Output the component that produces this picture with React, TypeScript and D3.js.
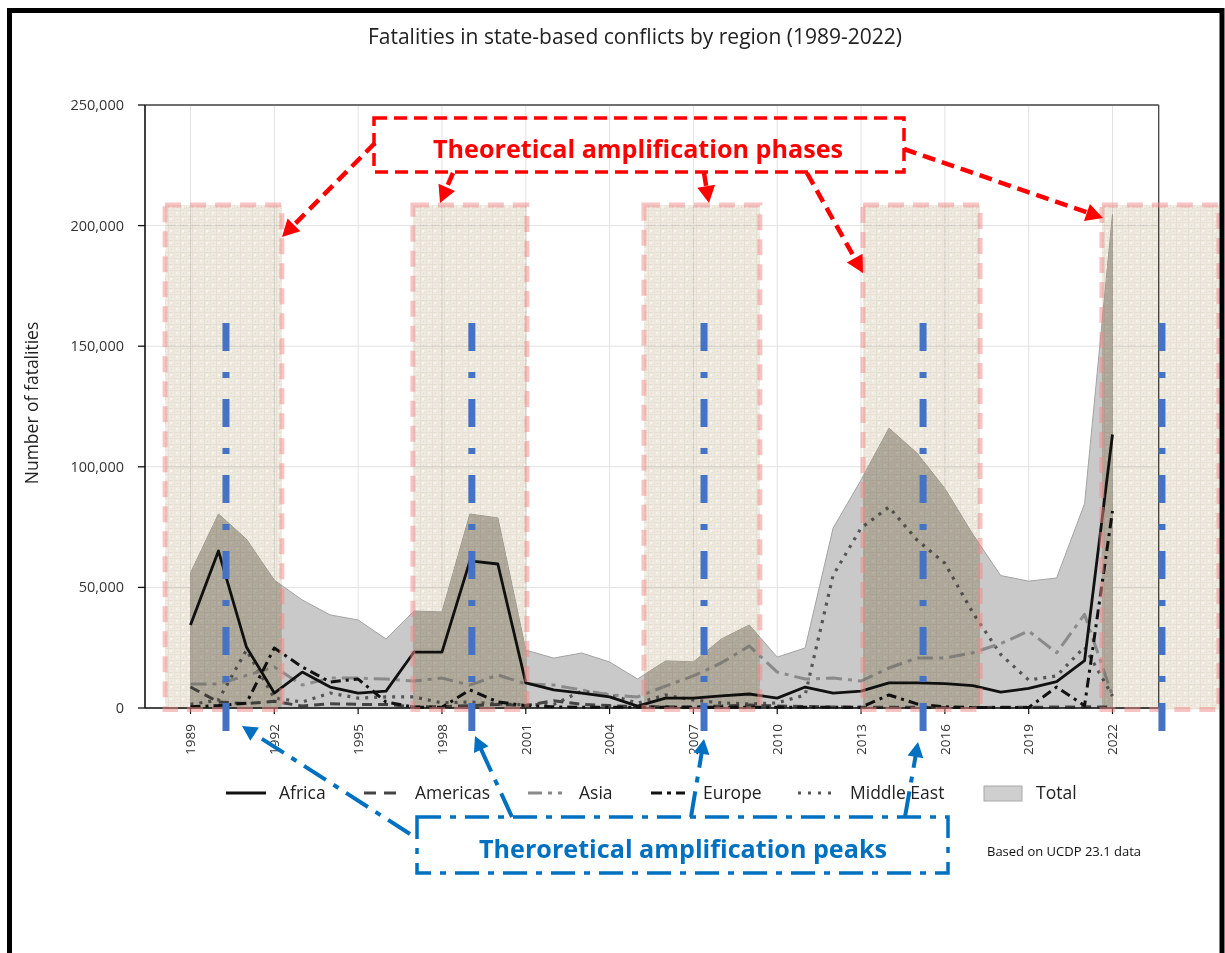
import React, { useEffect, useRef } from "react";
import * as d3 from "d3";

// ── Data ───────────────────────────────────────────────────────────────────
const years = [
  1989, 1990, 1991, 1992, 1993, 1994, 1995, 1996, 1997, 1998, 1999, 2000,
  2001, 2002, 2003, 2004, 2005, 2006, 2007, 2008, 2009, 2010, 2011, 2012,
  2013, 2014, 2015, 2016, 2017, 2018, 2019, 2020, 2021, 2022,
];
const africa = [
  34400, 65100, 25300, 6200, 14900, 8700, 6200, 7000, 23200, 23200, 61000, 59700,
  10400, 7500, 6200, 4600, 800, 4100, 4100, 5000, 5800, 4100, 8700, 6200,
  7000, 10400, 10400, 10100, 9300, 6600, 8100, 10900, 19600, 113400,
];
const americas = [
  8700, 2500, 1800, 2800, 800, 1800, 1500, 1500, 500, 500, 1000, 1500,
  1000, 3000, 1500, 1000, 500, 500, 400, 800, 1200, 800, 600, 400,
  300, 300, 300, 200, 200, 300, 300, 400, 500, 400,
];
const asia = [
  10000, 10000, 13500, 17000, 9500, 12400, 12400, 12000, 11200, 12400, 9500, 13700,
  10000, 9500, 7500, 5400, 4600, 9100, 13300, 18700, 25700, 14900, 12000, 12400,
  11200, 16600, 20700, 20700, 22900, 26700, 31900, 22900, 38800, 5000,
];
const europe = [
  500, 1000, 2000, 24900, 17000, 10800, 12000, 2500, 300, 300, 7500, 2500,
  1000, 500, 300, 300, 300, 300, 300, 300, 300, 300, 300, 300,
  300, 5400, 1700, 500, 200, 200, 200, 8700, 1000, 81700,
];
const middleEast = [
  1500, 3300, 24000, 4100, 2500, 6200, 4100, 4600, 4600, 2100, 2500, 1700,
  1300, 1500, 7000, 5500, 2000, 5400, 3300, 2100, 1700, 2100, 5400, 55000,
  74600, 83300, 69700, 60000, 39500, 22200, 11600, 13300, 25300, 5000,
];
const total = [
  56000, 80400, 70000, 53000, 44800, 38600, 36500, 28600, 40200, 39800, 80400, 78800,
  24000, 20700, 22800, 19100, 12000, 19500, 19100, 28600, 34400, 21100, 24900, 74600,
  94500, 116000, 105700, 91000, 72000, 54900, 52600, 53900, 84700, 204600,
];

const tickYears = [1989, 1992, 1995, 1998, 2001, 2004, 2007, 2010, 2013, 2016, 2019, 2022];
const yTicks = [0, 50000, 100000, 150000, 200000, 250000];

// annotation spans, in years
const phaseSpans: [number, number][] = [
  [1988.09, 1992.27],
  [1996.96, 2001.04],
  [2005.23, 2009.38],
  [2013.07, 2017.26],
  [2021.62, 2025.81],
];
const peakYears = [1990.27, 1999.07, 2007.38, 2015.22, 2023.77];

const App: React.FC = () => {
  const svgRef = useRef<SVGSVGElement | null>(null);

  useEffect(() => {
    if (!svgRef.current) return;
    const svg = d3.select(svgRef.current);
    svg.selectAll("*").remove();

    const FONT = "'Open Sans', 'Noto Sans', sans-serif";
    const P = { left: 145, right: 1158.7, top: 105, bottom: 708 };

    const x = d3.scaleLinear().domain([1989, 2022]).range([190.5, 1112.5]);
    const y = d3.scaleLinear().domain([0, 250000]).range([P.bottom, P.top]);

    // ── Defs: canvas texture, clip ─────────────────────────────────────────
    const defs = svg.append("defs");
    const pat = defs.append("pattern").attr("id", "burlap")
      .attr("patternUnits", "userSpaceOnUse").attr("width", 12).attr("height", 12);
    pat.append("rect").attr("width", 12).attr("height", 12).attr("fill", "#efeae0");
    const specks: [number, number, number, number, string][] = [
      [0, 0, 12, 1, "#e6e0d2"], [0, 6, 12, 1, "#e8e2d5"], [0, 0, 1, 12, "#e6e0d3"],
      [6, 0, 1, 12, "#e9e4d7"], [2, 2, 2, 2, "#f7f4ee"], [8, 8, 2, 2, "#f7f4ee"],
      [9, 3, 1, 1, "#ddd6c7"], [3, 9, 1, 1, "#ddd6c7"], [4, 4, 1, 1, "#e2dccd"],
    ];
    specks.forEach(([sx, sy, sw, sh, c]) => {
      pat.append("rect").attr("x", sx).attr("y", sy).attr("width", sw).attr("height", sh).attr("fill", c);
    });

    const phaseTop = 208500;
    const phaseBottom = -600;
    const clip = defs.append("clipPath").attr("id", "phaseClip");
    phaseSpans.forEach(([a, b]) => {
      clip.append("rect")
        .attr("x", x(a)).attr("y", y(phaseTop))
        .attr("width", x(b) - x(a)).attr("height", y(phaseBottom) - y(phaseTop));
    });

    svg.append("rect").attr("width", 1225).attr("height", 953).attr("fill", "#fff");

    // ── Title ──────────────────────────────────────────────────────────────
    svg.append("text").attr("x", 635).attr("y", 44).attr("text-anchor", "middle")
      .attr("font-family", FONT).attr("font-size", 21).attr("fill", "#222")
      .text("Fatalities in state-based conflicts by region (1989-2022)");

    // ── Grid ───────────────────────────────────────────────────────────────
    const grid = svg.append("g").attr("stroke", "#e2e2e2").attr("stroke-width", 1);
    yTicks.forEach((t) => {
      grid.append("line").attr("x1", P.left).attr("x2", P.right).attr("y1", y(t)).attr("y2", y(t));
    });
    tickYears.forEach((t) => {
      grid.append("line").attr("x1", x(t)).attr("x2", x(t)).attr("y1", P.top).attr("y2", P.bottom);
    });

    // ── Total area ─────────────────────────────────────────────────────────
    const idx = years.map((_, i) => i);
    const area = d3.area<number>()
      .x((i) => x(years[i]))
      .y0(y(0))
      .y1((i) => y(total[i]));
    svg.append("path").datum(idx).attr("d", area)
      .attr("fill", "#c9c9c9").attr("stroke", "#a3a3a3").attr("stroke-width", 1);
    svg.append("path").datum(idx).attr("d", area)
      .attr("clip-path", "url(#phaseClip)")
      .attr("fill", "#bcb9b2");

    // ── Region lines ───────────────────────────────────────────────────────
    const series = [
      { name: "Africa", values: africa, stroke: "#111", dash: "none", width: 2.8, legendDash: "none" },
      { name: "Americas", values: americas, stroke: "#444", dash: "10,6", width: 3, legendDash: "12,8" },
      { name: "Asia", values: asia, stroke: "#8a8a8a", dash: "16,6,4,6", width: 3, legendDash: "14,6,4,6" },
      { name: "Europe", values: europe, stroke: "#111", dash: "10,5,3,5", width: 3, legendDash: "11,5,4,5" },
      { name: "Middle East", values: middleEast, stroke: "#555", dash: "3,6", width: 3.2, legendDash: "3,7" },
    ];
    const drawOrder = [4, 2, 1, 3, 0];
    drawOrder.forEach((k) => {
      const s = series[k];
      const line = d3.line<number>()
        .x((i) => x(years[i]))
        .y((i) => y(s.values[i]));
      svg.append("path").datum(idx).attr("d", line)
        .attr("fill", "none").attr("stroke", s.stroke)
        .attr("stroke-width", s.width).attr("stroke-dasharray", s.dash)
        .attr("stroke-linejoin", "round");
    });

    // ── Axes ───────────────────────────────────────────────────────────────
    svg.append("line").attr("x1", P.left).attr("x2", P.right).attr("y1", P.top).attr("y2", P.top)
      .attr("stroke", "#444").attr("stroke-width", 1.3);
    svg.append("line").attr("x1", P.right).attr("x2", P.right).attr("y1", P.top).attr("y2", P.bottom)
      .attr("stroke", "#444").attr("stroke-width", 1.3);
    svg.append("line").attr("x1", P.left).attr("x2", P.left).attr("y1", P.top).attr("y2", P.bottom)
      .attr("stroke", "#111").attr("stroke-width", 1.6);
    svg.append("line").attr("x1", P.left).attr("x2", P.right).attr("y1", P.bottom).attr("y2", P.bottom)
      .attr("stroke", "#111").attr("stroke-width", 1.6);

    const fmt = d3.format(",");
    yTicks.forEach((t) => {
      svg.append("line").attr("x1", P.left - 7).attr("x2", P.left).attr("y1", y(t)).attr("y2", y(t))
        .attr("stroke", "#111").attr("stroke-width", 1.3);
      svg.append("text").attr("x", 124).attr("y", y(t)).attr("dy", "0.35em")
        .attr("text-anchor", "end").attr("font-family", FONT).attr("font-size", 14.5)
        .attr("fill", "#333").text(fmt(t));
    });
    tickYears.forEach((t) => {
      svg.append("line").attr("x1", x(t)).attr("x2", x(t)).attr("y1", P.bottom).attr("y2", P.bottom + 6)
        .attr("stroke", "#111").attr("stroke-width", 1.2);
      svg.append("text")
        .attr("transform", `translate(${x(t)},${P.bottom + 16}) rotate(-90)`)
        .attr("dy", "0.35em").attr("text-anchor", "end")
        .attr("font-family", FONT).attr("font-size", 13.5).attr("fill", "#333")
        .text(String(t));
    });

    svg.append("text").attr("transform", "translate(32,403) rotate(-90)")
      .attr("dy", "0.35em").attr("text-anchor", "middle")
      .attr("font-family", FONT).attr("font-size", 17.5).attr("fill", "#222")
      .text("Number of fatalities");

    // ── Legend ─────────────────────────────────────────────────────────────
    const legendY = 793;
    const legendPos = [
      { x1: 226, x2: 266, tx: 279 },
      { x1: 364, x2: 398, tx: 415 },
      { x1: 528, x2: 562, tx: 579 },
      { x1: 651, x2: 685, tx: 703 },
      { x1: 798, x2: 834, tx: 850 },
    ];
    series.forEach((s, k) => {
      const p = legendPos[k];
      svg.append("line").attr("x1", p.x1).attr("x2", p.x2).attr("y1", legendY).attr("y2", legendY)
        .attr("stroke", s.stroke).attr("stroke-width", s.width)
        .attr("stroke-dasharray", s.legendDash);
      svg.append("text").attr("x", p.tx).attr("y", legendY).attr("dy", "0.35em")
        .attr("font-family", FONT).attr("font-size", 17.5).attr("fill", "#222").text(s.name);
    });
    svg.append("rect").attr("x", 984).attr("y", 786).attr("width", 38).attr("height", 15)
      .attr("fill", "#cfcfcf").attr("stroke", "#a8a8a8").attr("stroke-width", 1);
    svg.append("text").attr("x", 1036).attr("y", legendY).attr("dy", "0.35em")
      .attr("font-family", FONT).attr("font-size", 17.5).attr("fill", "#222").text("Total");

    svg.append("text").attr("x", 987).attr("y", 856)
      .attr("font-family", FONT).attr("font-size", 13).attr("fill", "#111")
      .text("Based on UCDP 23.1 data");

    // ── Phase overlays ─────────────────────────────────────────────────────
    const ov = svg.append("g");
    phaseSpans.forEach(([a, b]) => {
      ov.append("rect")
        .attr("x", x(a)).attr("y", y(phaseTop))
        .attr("width", x(b) - x(a)).attr("height", y(phaseBottom) - y(phaseTop))
        .attr("fill", "url(#burlap)")
        .style("mix-blend-mode", "multiply");
    });
    phaseSpans.forEach(([a, b]) => {
      ov.append("rect")
        .attr("x", x(a)).attr("y", y(phaseTop))
        .attr("width", x(b) - x(a)).attr("height", y(phaseBottom) - y(phaseTop))
        .attr("fill", "none").attr("stroke", "#f08a8a").attr("stroke-opacity", 0.5)
        .attr("stroke-width", 5).attr("stroke-dasharray", "16,9");
    });

    // ── Peak lines ─────────────────────────────────────────────────────────
    peakYears.forEach((py) => {
      svg.append("line").attr("x1", x(py)).attr("x2", x(py))
        .attr("y1", y(159600)).attr("y2", y(-13300))
        .attr("stroke", "#4472c4").attr("stroke-width", 7)
        .attr("stroke-dasharray", "28,21,6,21");
    });

    // ── Arrow helper ───────────────────────────────────────────────────────
    const arrow = (g: d3.Selection<SVGGElement, unknown, null, undefined>,
      a: number[], color: string, dash: string, w: number, L: number, hw: number) => {
      const [x1, y1, x2, y2] = a;
      const dx = x2 - x1, dy = y2 - y1;
      const d = Math.hypot(dx, dy);
      const ux = dx / d, uy = dy / d;
      const bx = x2 - ux * L, by = y2 - uy * L;
      g.append("line").attr("x1", x1).attr("y1", y1).attr("x2", bx + ux * 2).attr("y2", by + uy * 2)
        .attr("stroke", color).attr("stroke-width", w).attr("stroke-dasharray", dash);
      g.append("polygon")
        .attr("points", `${x2},${y2} ${bx - uy * hw},${by + ux * hw} ${bx + uy * hw},${by - ux * hw}`)
        .attr("fill", color);
    };

    // ── Red annotation ─────────────────────────────────────────────────────
    const red = svg.append("g");
    red.append("rect").attr("x", 374).attr("y", 118).attr("width", 530).attr("height", 54)
      .attr("fill", "none").attr("stroke", "#ff0000").attr("stroke-width", 3.5)
      .attr("stroke-dasharray", "13,7");
    red.append("text").attr("x", 638).attr("y", 158).attr("text-anchor", "middle")
      .attr("font-family", FONT).attr("font-weight", 700).attr("font-size", 25)
      .attr("fill", "#ff0000").attr("textLength", 410).attr("lengthAdjust", "spacingAndGlyphs")
      .text("Theoretical amplification phases");
    const redArrows = [
      [375, 143, 282, 237],
      [453, 173, 440, 203],
      [704, 173, 709, 203],
      [807, 173, 863, 273],
      [904, 149, 1103, 218],
    ];
    redArrows.forEach((a) => arrow(red, a, "#ff0000", "13,7", 4.5, 17, 9));

    // ── Blue annotation ────────────────────────────────────────────────────
    const blue = svg.append("g");
    blue.append("rect").attr("x", 417).attr("y", 817).attr("width", 531).attr("height", 56)
      .attr("fill", "none").attr("stroke", "#0070c0").attr("stroke-width", 3.5)
      .attr("stroke-dasharray", "24,9,6,9");
    blue.append("text").attr("x", 683).attr("y", 858).attr("text-anchor", "middle")
      .attr("font-family", FONT).attr("font-weight", 700).attr("font-size", 25)
      .attr("fill", "#0070c0").attr("textLength", 408).attr("lengthAdjust", "spacingAndGlyphs")
      .text("Theroretical amplification peaks");
    const blueArrows = [
      [410, 834, 242, 726],
      [512, 817, 475, 736],
      [691, 817, 704, 739],
      [905, 817, 918, 742],
    ];
    blueArrows.forEach((a) => arrow(blue, a, "#0070c0", "26,9,6,9", 4, 15, 8));

    // ── Outer border ───────────────────────────────────────────────────────
    svg.append("rect").attr("x", 9.5).attr("y", 10.5).attr("width", 1212.5).attr("height", 1000)
      .attr("fill", "none").attr("stroke", "#000").attr("stroke-width", 5);
  }, []);

  return (
    <svg
      ref={svgRef}
      width={1225}
      height={953}
      style={{ position: "absolute", left: 0, top: 0 }}
    />
  );
};

export default App;
